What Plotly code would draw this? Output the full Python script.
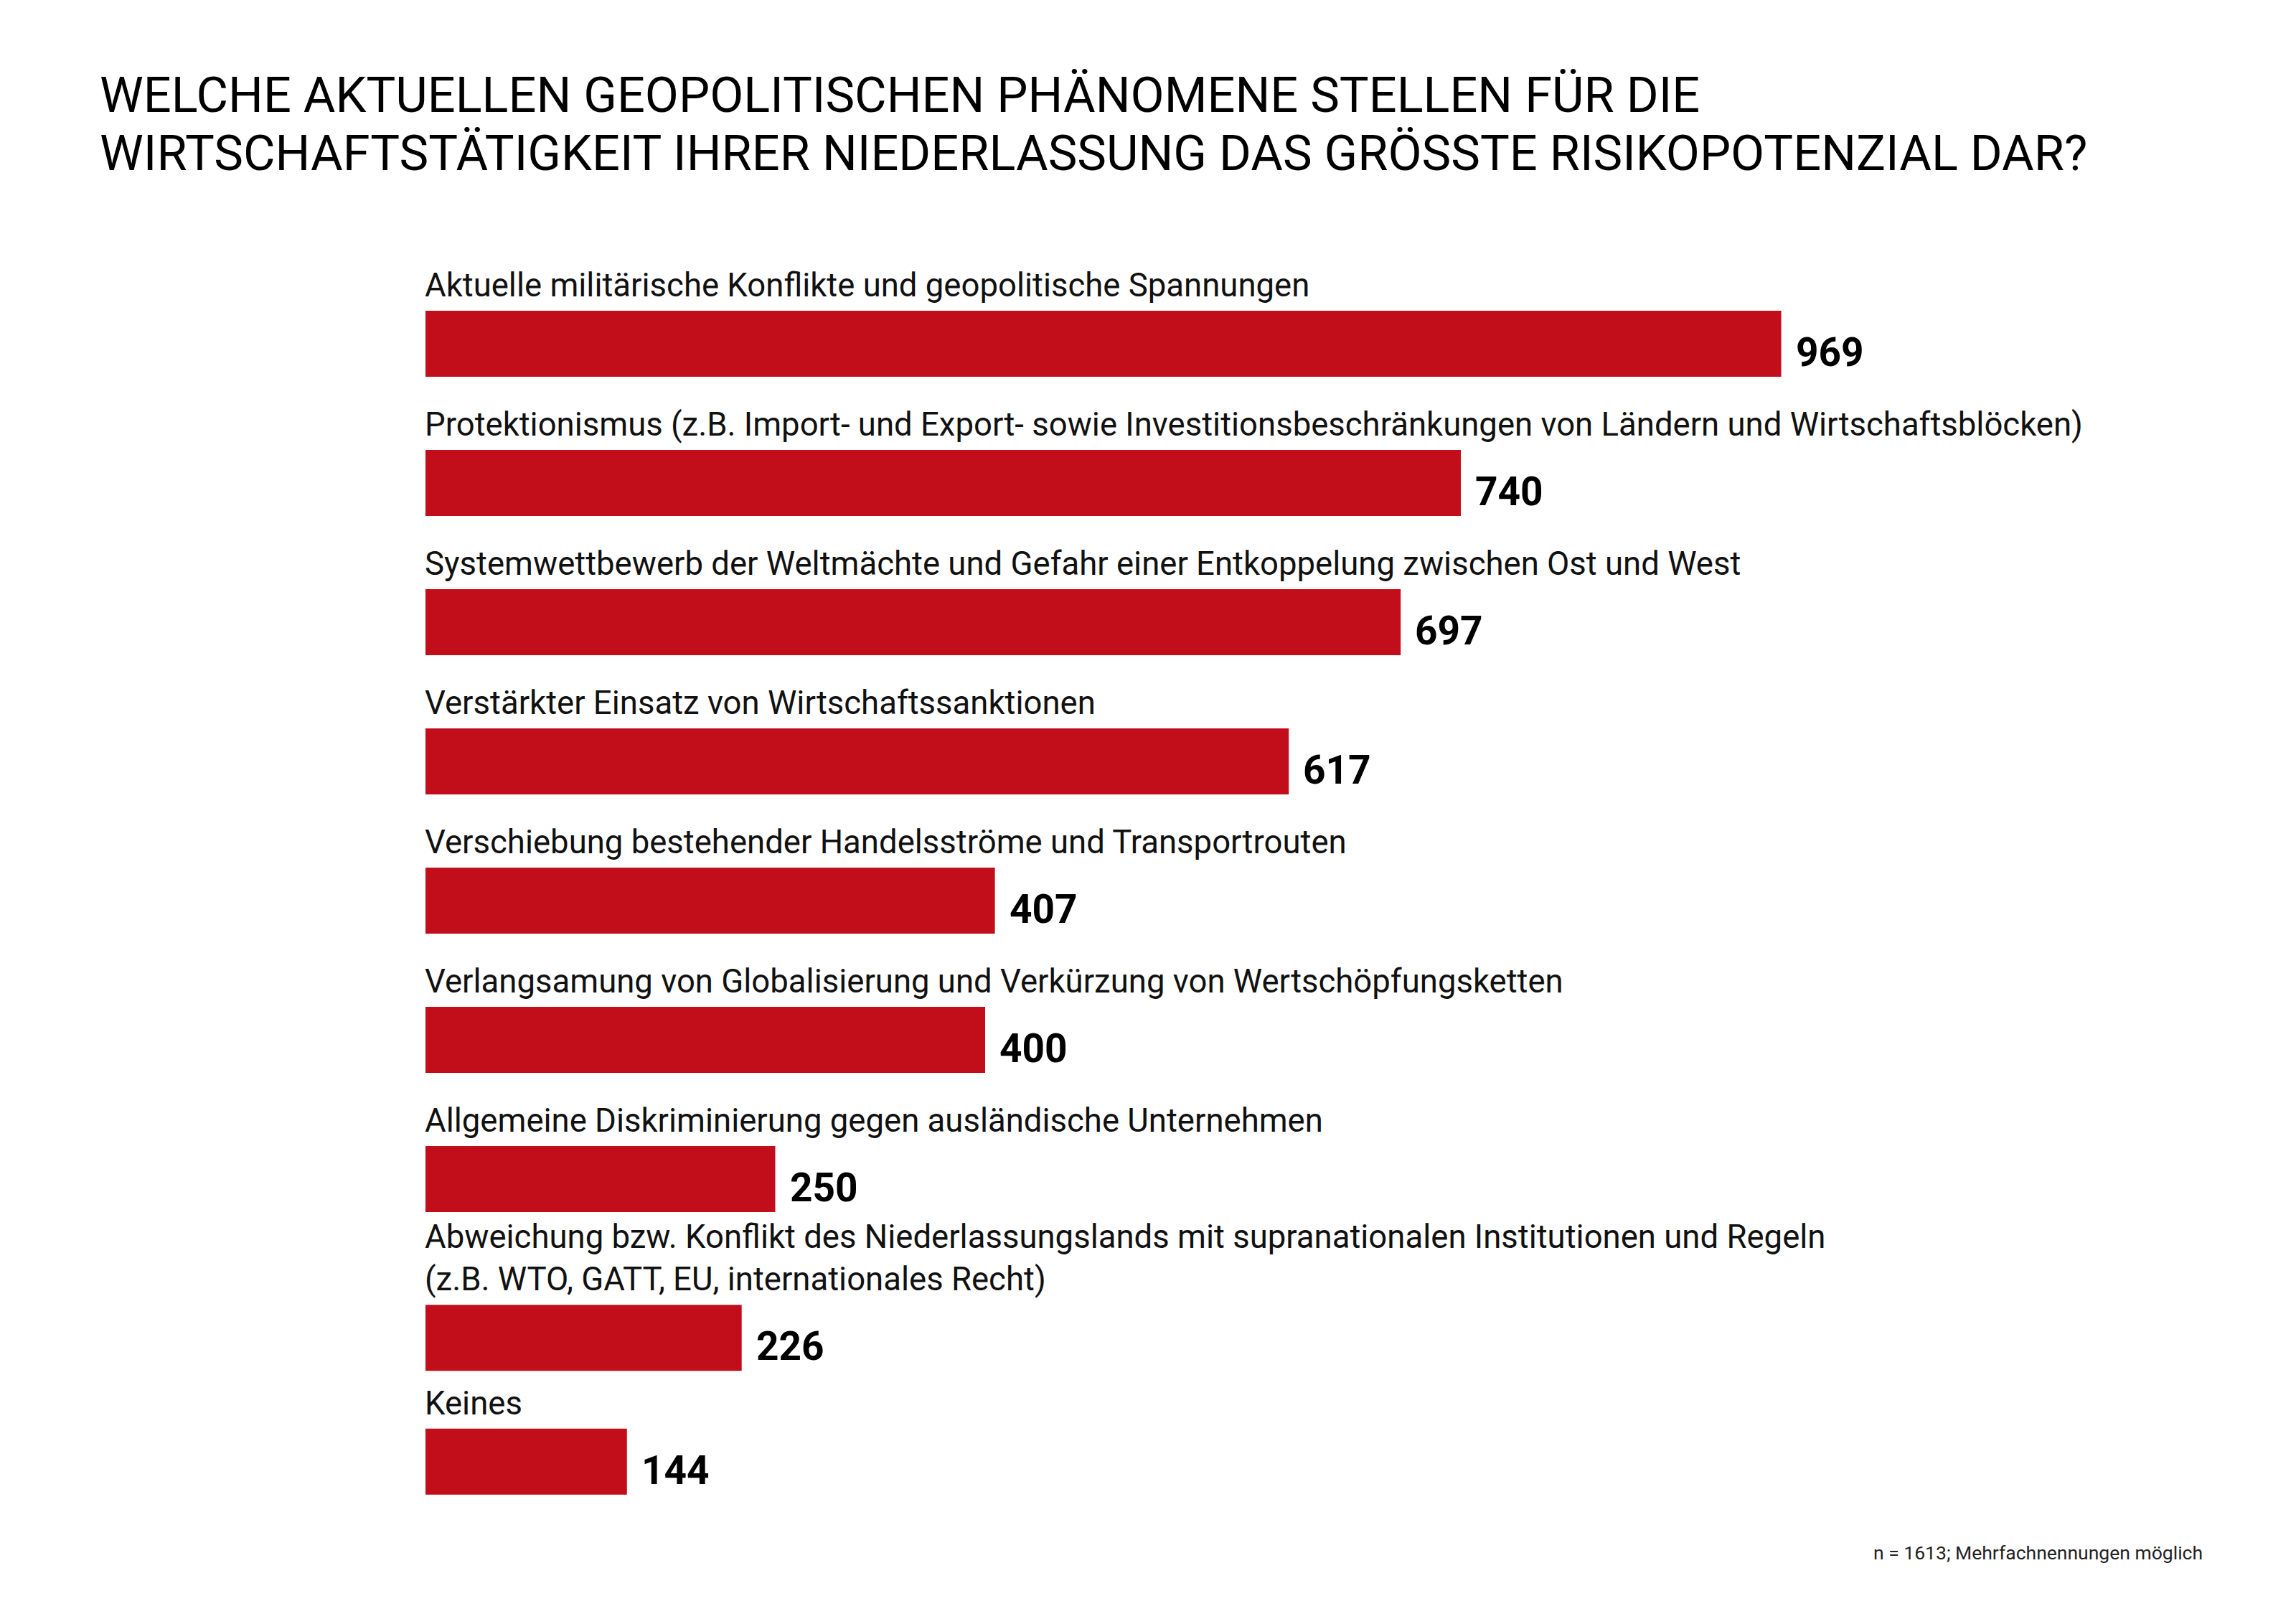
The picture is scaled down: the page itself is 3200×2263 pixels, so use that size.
import plotly.graph_objects as go

# ---- data ----
categories = [
    "Aktuelle militärische Konflikte und geopolitische Spannungen",
    "Protektionismus (z.B. Import- und Export- sowie Investitionsbeschränkungen von Ländern und Wirtschaftsblöcken)",
    "Systemwettbewerb der Weltmächte und Gefahr einer Entkoppelung zwischen Ost und West",
    "Verstärkter Einsatz von Wirtschaftssanktionen",
    "Verschiebung bestehender Handelsströme und Transportrouten",
    "Verlangsamung von Globalisierung und Verkürzung von Wertschöpfungsketten",
    "Allgemeine Diskriminierung gegen ausländische Unternehmen",
    "Abweichung bzw. Konflikt des Niederlassungslands mit supranationalen Institutionen und Regeln<br>(z.B. WTO, GATT, EU, internationales Recht)",
    "Keines",
]
values = [969, 740, 697, 617, 407, 400, 250, 226, 144]

title_lines = [
    "WELCHE AKTUELLEN GEOPOLITISCHEN PHÄNOMENE STELLEN FÜR DIE",
    "WIRTSCHAFTSTÄTIGKEIT IHRER NIEDERLASSUNG DAS GRÖSSTE RISIKOPOTENZIAL DAR?",
]
note_text = "n = 1613; Mehrfachnennungen möglich"

# ---- layout constants ----
row_pos = [0, 1, 2, 3, 4, 5, 6, 7.14, 8.03]   # extra room for two-line label
W, H = 3200, 2263
OFF = 8            # page body margin
ROW_PX = 194
FIRST_PX = 479 - OFF
BAR_W = 0.474
RED = "#C20E1A"
FONT = "Roboto"

fig = go.Figure(go.Bar(
    x=values, y=row_pos, orientation="h",
    width=BAR_W, marker=dict(color=RED, line=dict(width=0)),
    hoverinfo="skip",
))

annotations = []
for cat, v, p in zip(categories, values, row_pos):
    annotations.append(dict(
        x=0, y=p, xref="x", yref="y", text=cat, showarrow=False,
        xanchor="left", yanchor="bottom", align="left",
        yshift=BAR_W * ROW_PX / 2 + 7, xshift=-3,
        font=dict(family=FONT, size=45.5, color="#111111"),
    ))
    annotations.append(dict(
        x=v, y=p, xref="x", yref="y", text=f"<b>{v}</b>", showarrow=False,
        xanchor="left", yanchor="middle", xshift=18, yshift=-12,
        font=dict(family=FONT, size=55, color="#000000"),
    ))

ml, mr = 593 - OFF, 72 + OFF
plot_w = W - ml - mr
plot_h = H
xmax = plot_w / 1.95

# title lines (pixel centres of cap height in reference)
for line, yc in zip(title_lines, [133, 214]):
    annotations.append(dict(
        x=(137 - OFF - ml) / plot_w, y=1 - (yc - OFF) / plot_h,
        xref="paper", yref="paper", text=line, showarrow=False,
        xanchor="left", yanchor="middle", align="left",
        font=dict(family=FONT, size=68.5, color="#000000"),
    ))

annotations.append(dict(
    x=(3072 - OFF - ml) / plot_w, y=1 - (2163 - OFF) / plot_h,
    xref="paper", yref="paper",
    text=note_text, showarrow=False, xanchor="right", yanchor="middle",
    font=dict(family=FONT, size=26.5, color="#222222"),
))

fig.update_layout(
    width=W, height=H,
    margin=dict(l=ml, r=mr, t=0, b=0),
    paper_bgcolor="white", plot_bgcolor="white",
    showlegend=False,
    xaxis=dict(range=[0, xmax], visible=False, fixedrange=True),
    yaxis=dict(range=[(H - FIRST_PX) / ROW_PX, -FIRST_PX / ROW_PX],
               visible=False, fixedrange=True),
    annotations=annotations,
)

fig.write_html("out.html")
